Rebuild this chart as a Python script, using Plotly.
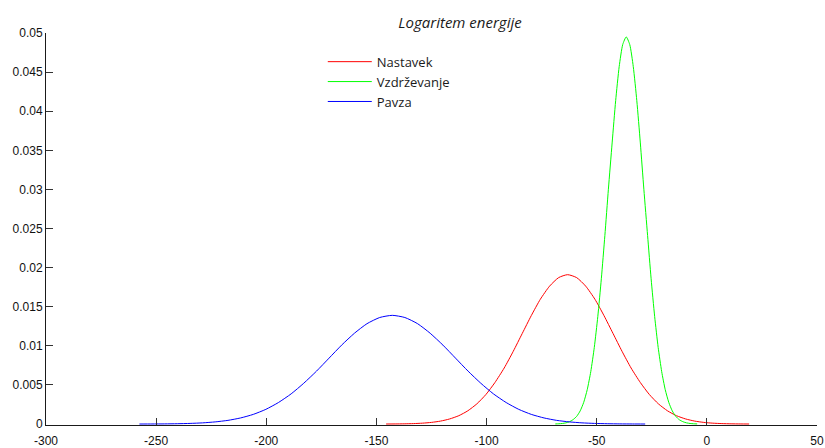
import plotly.graph_objects as go

# Estimated probability densities of log energy for three segment classes
nastavek_x = [-145.6, -141.5, -137.4, -133.2, -129.1, -125.0, -120.9, -116.8, -112.6, -108.5,
              -104.4, -100.3, -96.2, -92.0, -87.9, -83.8, -79.7, -75.6, -71.4, -67.3,
              -63.2, -59.1, -55.0, -50.8, -46.7, -42.6, -38.5, -34.4, -30.2, -26.1,
              -22.0, -17.9, -13.8, -9.6, -5.5, -1.4, 2.7, 6.8, 11.0, 15.1, 19.2]
nastavek_y = [0.000006, 0.000014, 0.000029, 0.000059, 0.000114, 0.000212, 0.000379, 0.000650,
              0.001072, 0.001698, 0.002585, 0.003780, 0.005311, 0.007168, 0.009297, 0.011585,
              0.013869, 0.015954, 0.017632, 0.018722, 0.019100, 0.018722, 0.017632, 0.015954,
              0.013869, 0.011585, 0.009297, 0.007168, 0.005311, 0.003780, 0.002585, 0.001698,
              0.001072, 0.000650, 0.000379, 0.000212, 0.000114, 0.000059, 0.000029, 0.000014,
              0.000006]

vzdrzevanje_x = [-68.8, -67.2, -65.6, -64.0, -62.4, -60.8, -59.1, -57.5, -55.9, -54.3,
                 -52.7, -51.1, -49.5, -47.9, -46.3, -44.7, -43.0, -41.4, -39.8, -38.2,
                 -36.6, -35.0, -33.4, -31.8, -30.2, -28.6, -26.9, -25.3, -23.7, -22.1,
                 -20.5, -18.9, -17.3, -15.7, -14.1, -12.5, -10.8, -9.2, -7.6, -6.0, -4.4]
vzdrzevanje_y = [0.000017, 0.000036, 0.000076, 0.000153, 0.000296, 0.000550, 0.000982, 0.001685,
                 0.002778, 0.004402, 0.006699, 0.009796, 0.013763, 0.018578, 0.024094, 0.030023,
                 0.035944, 0.041346, 0.045694, 0.048520, 0.049500, 0.048520, 0.045694, 0.041346,
                 0.035944, 0.030023, 0.024094, 0.018578, 0.013763, 0.009796, 0.006699, 0.004402,
                 0.002778, 0.001685, 0.000982, 0.000550, 0.000296, 0.000153, 0.000076, 0.000036,
                 0.000017]

pavza_x = [-257.6, -251.9, -246.1, -240.4, -234.6, -228.9, -223.2, -217.4, -211.7, -205.9,
           -200.2, -194.5, -188.7, -183.0, -177.2, -171.5, -165.8, -160.0, -154.3, -148.5,
           -142.8, -137.1, -131.3, -125.6, -119.8, -114.1, -108.4, -102.6, -96.9, -91.1,
           -85.4, -79.7, -73.9, -68.2, -62.4, -56.7, -51.0, -45.2, -39.5, -33.7, -28.0]
pavza_y = [0.000005, 0.000010, 0.000021, 0.000043, 0.000083, 0.000154, 0.000276, 0.000473,
           0.000780, 0.001236, 0.001881, 0.002751, 0.003865, 0.005217, 0.006766, 0.008431,
           0.010093, 0.011610, 0.012831, 0.013625, 0.013900, 0.013625, 0.012831, 0.011610,
           0.010093, 0.008431, 0.006766, 0.005217, 0.003865, 0.002751, 0.001881, 0.001236,
           0.000780, 0.000473, 0.000276, 0.000154, 0.000083, 0.000043, 0.000021, 0.000010,
           0.000005]

x_ticks = [-300, -250, -200, -150, -100, -50, 0, 50]
x_tick_labels = ["-300", "-250", "-200", "-150", "-100", "-50", "0", "50"]
y_ticks = [0, 0.005, 0.01, 0.015, 0.02, 0.025, 0.03, 0.035, 0.04, 0.045, 0.05]
y_tick_labels = ["0", "0.005", "0.01", "0.015", "0.02", "0.025", "0.03", "0.035",
                 "0.04", "0.045", "0.05"]

series = [
    ("Nastavek", nastavek_x, nastavek_y, "#ff0000"),
    ("Vzdrževanje", vzdrzevanje_x, vzdrzevanje_y, "#00ff00"),
    ("Pavza", pavza_x, pavza_y, "#0000ff"),
]

fig = go.Figure()
for name, xs, ys, color in series:
    fig.add_trace(go.Scatter(
        x=xs, y=ys, name=name, mode="lines",
        line=dict(color=color, width=1, shape="spline", smoothing=0.6),
    ))

axis_common = dict(
    showline=True, linecolor="#1a1a1a", linewidth=1,
    ticks="inside", ticklen=7, tickwidth=1, tickcolor="#333333",
    showgrid=False, zeroline=False, mirror=False, automargin=False,
    tickfont=dict(family="Liberation Sans, Arial, sans-serif", size=12, color="#111111"),
)

fig.update_layout(
    width=825, height=448,
    margin=dict(l=46, r=8, t=33, b=23, autoexpand=False),
    paper_bgcolor="white", plot_bgcolor="white",
    title=dict(
        text="<i>Logaritem energije</i>",
        x=0.5576, xanchor="center", xref="container",
        y=0.949, yanchor="middle", yref="container",
        font=dict(family="Open Sans, sans-serif", size=15, color="#1a1a1a"),
    ),
    xaxis=dict(range=[-300, 50], tickvals=x_ticks, ticktext=x_tick_labels,
               ticklabelstandoff=5, **axis_common),
    yaxis=dict(range=[-0.00012, 0.05], tickvals=y_ticks, ticktext=y_tick_labels,
               **axis_common),
    legend=dict(
        x=0.359, y=0.965, xanchor="left", yanchor="top",
        bgcolor="rgba(0,0,0,0)", borderwidth=0,
        font=dict(family="Open Sans, sans-serif", size=13, color="#1a1a1a"),
        itemwidth=44,
    ),
    showlegend=True,
)

fig.write_html("out.html")
